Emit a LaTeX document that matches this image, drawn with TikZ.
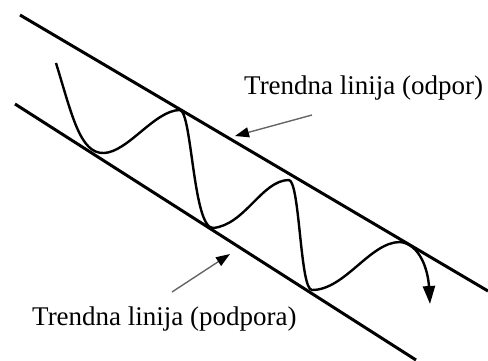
\documentclass[tikz,border=0pt]{standalone}
\usepackage{fontspec}
\setmainfont{Liberation Serif}
\usetikzlibrary{arrows.meta}
\tikzset{
  trend/.style   = {line width=3pt},
  price/.style   = {line width=2.4pt, -{Triangle[length=18pt,width=12pt]}},
  pointer/.style = {line width=1.4pt, black!60, -{Triangle[length=14pt,width=10pt,color=black]}},
  lab/.style     = {font=\fontsize{27}{32}\selectfont, anchor=base west, inner sep=0pt},
}

\begin{document}
\begin{tikzpicture}[x=1pt,y=-1pt]
  \useasboundingbox (0,0) rectangle (488,360);

  % the two trend lines of the channel
  \coordinate (resA) at (20,15);
  \coordinate (resB) at (488,291);
  \coordinate (supA) at (15,104);
  \coordinate (supB) at (416,360);
  \draw[trend] (resA) -- (resB);
  \draw[trend] (supA) -- (supB);

  % price moving between them, last swing down
  \draw[price] (56,63) .. controls (72,115) and (80,154) .. (104,153)
    .. controls (128,152) and (155,110) .. (180,110)
    .. controls (192,112) and (193,228) .. (213,228)
    .. controls (245,225) and (262,180) .. (289,180)
    .. controls (300,182) and (300,290) .. (312,290)
    .. controls (345,290) and (370,242) .. (400,242)
    .. controls (420,244) and (428,270) .. (430,304);

  % labels
  \node[lab] (odpor) at (244,94) {Trendna linija (odpor)};
  \node[lab] (podpora) at (32,325) {Trendna linija (podpora)};

  % pointers to the lines
  \coordinate (odporTail) at (312,115);
  \coordinate (odporTip) at (235,136);
  \coordinate (podporaTail) at (172,292);
  \coordinate (podporaTip) at (230,254);
  \draw[pointer] (odporTail) -- (odporTip);
  \draw[pointer] (podporaTail) -- (podporaTip);
\end{tikzpicture}
\end{document}
